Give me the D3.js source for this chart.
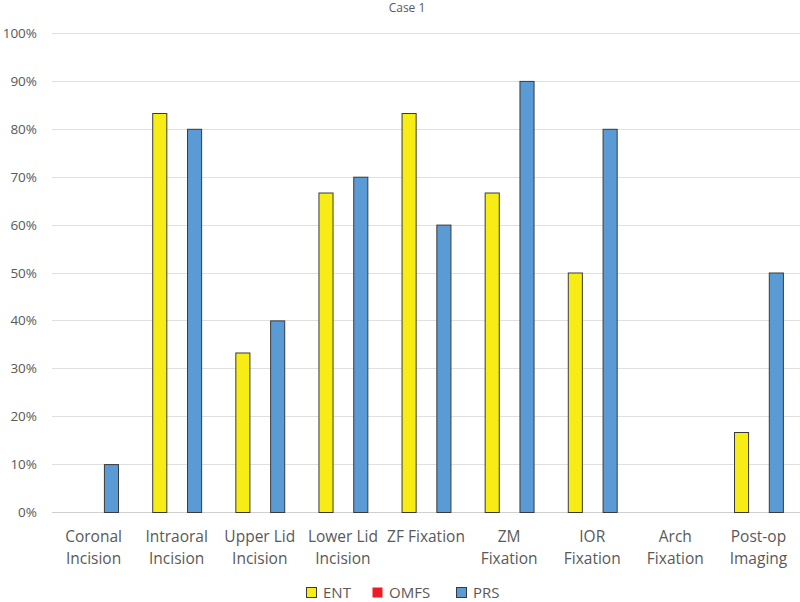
<!DOCTYPE html>
<html>
<head>
<meta charset="utf-8">
<script src="https://cdn.jsdelivr.net/npm/d3@7.9.0/dist/d3.min.js"></script>
<style>
  body { margin: 0; background: #fff; }
  svg text { font-family: "Open Sans", "Noto Sans", sans-serif; fill: #595959; }
</style>
</head>
<body>
<svg id="chart" width="800" height="602"></svg>
<script>
const categories = [
  ["Coronal", "Incision"], ["Intraoral", "Incision"], ["Upper Lid", "Incision"],
  ["Lower Lid", "Incision"], ["ZF Fixation"], ["ZM", "Fixation"],
  ["IOR", "Fixation"], ["Arch", "Fixation"], ["Post-op", "Imaging"]
];
const seriesNames = ["ENT", "OMFS", "PRS"];
const entValues = [0, 83.3, 33.3, 66.7, 83.3, 66.7, 50, 0, 16.7];
const omfsValues = [0, 0, 0, 0, 0, 0, 0, 0, 0];
const prsValues = [10, 80, 40, 70, 60, 90, 80, 0, 50];
const yTicks = [0, 10, 20, 30, 40, 50, 60, 70, 80, 90, 100];

const colors = { ENT: "#f7ec13", OMFS: "#ed1c24", PRS: "#5b9bd5" };
const values = { ENT: entValues, OMFS: omfsValues, PRS: prsValues };

const svg = d3.select("#chart");
const plotLeft = 52, plotRight = 800, plotTop = 33, plotBottom = 512;

const x0 = d3.scaleBand().domain(d3.range(categories.length)).range([plotLeft, plotRight]);
const x1 = d3.scaleBand().domain(seriesNames)
  .range([x0.bandwidth() / 2 - 27.75, x0.bandwidth() / 2 + 27.75]).padding(0.19);
const y = d3.scaleLinear().domain([0, 100]).range([plotBottom, plotTop]);

// title
svg.append("text").attr("x", 407).attr("y", 12).attr("text-anchor", "middle")
  .style("font-size", "12px").text("Case 1");

// gridlines
svg.append("g").selectAll("line").data(yTicks).join("line")
  .attr("x1", plotLeft).attr("x2", plotRight)
  .attr("y1", d => Math.round(y(d)) + 0.5).attr("y2", d => Math.round(y(d)) + 0.5)
  .attr("stroke", d => d === 0 ? "#d0d0d0" : "#e0e0e0").attr("stroke-width", 1);

// y axis labels
svg.append("g").selectAll("text").data(yTicks).join("text")
  .attr("x", 37).attr("y", d => y(d) + 5).attr("text-anchor", "end")
  .style("font-size", "13.5px").text(d => d + "%");

// bars
const groups = svg.append("g").selectAll("g").data(categories).join("g")
  .attr("transform", (d, i) => `translate(${x0(i)},0)`);
groups.selectAll("rect")
  .data((d, i) => seriesNames.map(s => ({ s, v: values[s][i] })).filter(d => d.v > 0))
  .join("rect")
  .attr("x", d => x1(d.s) + 0.5).attr("width", x1.bandwidth())
  .attr("y", d => y(d.v) + 0.5).attr("height", d => y(0) - y(d.v))
  .attr("fill", d => colors[d.s]).attr("stroke", "#3a3a3a").attr("stroke-width", 1);

// x labels
groups.append("text").attr("text-anchor", "middle").style("font-size", "15.5px")
  .selectAll("tspan").data(d => d).join("tspan")
  .attr("x", x0.bandwidth() / 2).attr("y", (d, i) => 542 + i * 22).text(d => d);

// legend
const legendX = [306, 372, 456];
const legend = svg.append("g").selectAll("g").data(seriesNames).join("g")
  .attr("transform", (d, i) => `translate(${legendX[i]},587)`);
legend.append("rect").attr("x", 0.5).attr("y", 0.5).attr("width", 10).attr("height", 10)
  .attr("fill", d => colors[d]).attr("stroke", d => d === "OMFS" ? "none" : "#3a3a3a");
legend.append("text").attr("x", 17).attr("y", 11).style("font-size", "15px").text(d => d);
</script>
</body>
</html>
